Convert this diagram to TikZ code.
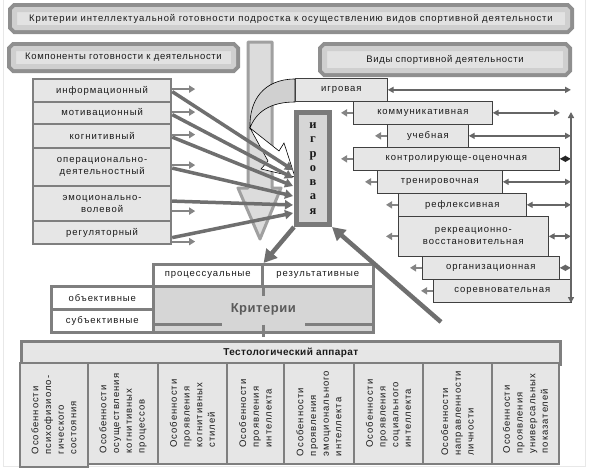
\documentclass[tikz,border=0pt]{standalone}
\usepackage{fontspec}
\setmainfont{Liberation Sans}[LetterSpace=10]
\newfontfamily\headfont{Liberation Sans}[LetterSpace=7]
\newfontfamily\titlefont{Liberation Sans}[LetterSpace=9.5]
\newfontfamily\boldsans{Liberation Sans}[LetterSpace=4]
\newfontfamily\igfont{Liberation Serif}
\usetikzlibrary{arrows.meta,calc}
\definecolor{frameg}{HTML}{8F8F8F}
\definecolor{bandg}{HTML}{CFCFCF}
\definecolor{innerg}{HTML}{E2E2E2}
\definecolor{boxg}{HTML}{E6E6E6}
\definecolor{bdrg}{HTML}{7F7F7F}
\definecolor{arrg}{HTML}{6F6F6F}
\definecolor{sarrg}{HTML}{858585}
\definecolor{darrg}{HTML}{666666}
\definecolor{igvb}{HTML}{7A7A7A}
\definecolor{igvf}{HTML}{D6D6D6}
\definecolor{barf}{HTML}{DCDCDC}
\definecolor{barb}{HTML}{A0A0A0}
\definecolor{curveg}{HTML}{D0D0D0}
\definecolor{kritg}{HTML}{D6D6D6}
\definecolor{txtc}{HTML}{1A1A1A}
\definecolor{kritt}{HTML}{5A5A5A}
\definecolor{faintc}{HTML}{E8E8E8}
\begin{document}
\begin{tikzpicture}[x=1pt,y=-1pt,
  every node/.style={inner sep=1pt, text=txtc, font=\fontsize{9.5}{12}\selectfont},
  hd/.style={draw=bandg, fill=innerg, line width=5pt, rounded corners=1.5pt,
    preaction={draw=frameg, line width=13pt}, font=\headfont\fontsize{9.5}{12}\selectfont},
  cbox/.style={draw=bdrg, fill=boxg, line width=2.2pt, align=center, anchor=north west},
  abox/.style={draw=black!75, fill=boxg, line width=0.7pt, align=center, anchor=north west},
  crbox/.style={draw=bdrg, fill=white, line width=2.6pt, align=center, anchor=north west},
  kritbox/.style={draw=bdrg, fill=kritg, line width=2.6pt, anchor=north west,
    font=\boldsans\bfseries\fontsize{13}{15}\selectfont, text=kritt},
  igvbox/.style={draw=igvb, fill=igvf, line width=5pt, align=center,
    font=\igfont\bfseries\fontsize{12.5}{14.3}\selectfont},
  testhead/.style={draw=bdrg, fill=boxg, line width=2.6pt, anchor=north west,
    font=\boldsans\bfseries\fontsize{10}{12}\selectfont},
  cell/.style={draw=bdrg, fill=boxg, line width=2.6pt, align=left, rotate=90,
    font=\fontsize{9.5}{12.7}\selectfont},
  blockarr/.style={draw=barb, fill=barf, line width=3pt, line join=round},
  uturn/.style={draw=black, line width=0.6pt},
  longarr/.style={draw=arrg, line width=3.5pt, -{Triangle[length=8pt,width=9pt]}},
  shortarr/.style={draw=sarrg, line width=2pt, -{Triangle[length=6pt,width=7pt]}},
  dblarr/.style={draw=darrg, line width=1.8pt, {Triangle[length=6pt,width=6pt]}-{Triangle[length=6pt,width=6pt]}},
  bigarr/.style={draw=arrg, line width=4.5pt, -{Triangle[length=13pt,width=14pt]}},
  kline/.style={draw=bdrg, line width=2.4pt},
  faint/.style={draw=faintc, line width=0.6pt}
]
\useasboundingbox (0,0) rectangle (590,471);
\draw[faint] (3,0) -- (3,466) -- (585,466) -- (585,0);

% headings
\node[hd, minimum width=553pt, minimum height=18pt, font=\titlefont\fontsize{9.5}{12}\selectfont] (title) at (291,18.5)
  {Критерии интеллектуальной готовности подростка к осуществлению видов спортивной деятельности};
\node[hd, minimum width=220pt, minimum height=18pt] (komp) at (123.5,57.5)
  {Компоненты готовности к деятельности};
\node[hd, minimum width=241pt, minimum height=22pt] (vidy) at (445,59.5)
  {Виды спортивной деятельности};

% downward block arrow
\draw[blockarr] (248,42) -- (272,42) -- (272,188) -- (281,188) -- (260,239) -- (238,188) -- (248,188) -- cycle;

% U-turn arrow
\draw[uturn, fill=curveg] (295,79) .. controls (264,79) and (249,100) .. (250,128)
  .. controls (256,112) and (270,102) .. (295,102) -- cycle;
\draw[uturn, fill=white] (250,128) -- (279,151) -- (284,143) -- (295,177) -- (261,169) -- (268,161) -- cycle;

% component boxes
\node[cbox, minimum width=138pt, minimum height=23pt] (info) at (32,78) {информационный};
\node[cbox, minimum width=138pt, minimum height=22pt] (motiv) at (32,101) {мотивационный};
\node[cbox, minimum width=138pt, minimum height=24pt] (kogn) at (32,123) {когнитивный};
\node[cbox, minimum width=138pt, minimum height=38pt] (oper) at (32,147) {операционально-\\деятельностный};
\node[cbox, minimum width=138pt, minimum height=35pt] (emo) at (32,185) {эмоционально-\\волевой};
\node[cbox, minimum width=138pt, minimum height=23pt] (reg) at (32,220) {регуляторный};

% activity boxes
\node[abox, minimum width=92pt, minimum height=23pt] (igr) at (295,78) {игровая};
\node[abox, minimum width=139pt, minimum height=23pt] (komm) at (353,101) {коммуникативная};
\node[abox, minimum width=81pt, minimum height=23pt] (uch) at (387,124) {учебная};
\node[abox, minimum width=206pt, minimum height=23pt] (kontr) at (353,147) {контролирующе-оценочная};
\node[abox, minimum width=125pt, minimum height=23pt] (tren) at (377,170) {тренировочная};
\node[abox, minimum width=128pt, minimum height=23pt] (refl) at (398,193) {рефлексивная};
\node[abox, minimum width=150pt, minimum height=40pt] (rekr) at (398,216) {рекреационно-\\восстановительная};
\node[abox, minimum width=137pt, minimum height=23pt] (org) at (422,256) {организационная};
\node[abox, minimum width=138pt, minimum height=23pt] (sor) at (433,279) {соревновательная};

% vertical box
\node[igvbox, minimum width=33pt, minimum height=112pt] (igv) at (313,168.5) {и\\г\\р\\о\\в\\а\\я};

% coordinates
\coordinate (t1) at (293,170);
\coordinate (t2) at (293,178);
\coordinate (t3) at (293,186);
\coordinate (t4) at (293,196);
\coordinate (t5) at (293,205);
\coordinate (t6) at (293,213);
\coordinate (vtop) at (571,112);
\coordinate (vbot) at (571,303);
\coordinate (lr) at (441,322);

% long arrows
\draw[longarr] ([yshift=-1pt]info.east) -- (t1);
\draw[longarr] ([yshift=-1.5pt]motiv.east) -- (t2);
\draw[longarr] ([yshift=-1pt]kogn.east) -- (t3);
\draw[longarr] ([yshift=-1pt]oper.east) -- (t4);
\draw[longarr] ([yshift=2.5pt]emo.east) -- (t5);
\draw[longarr] ([yshift=-5pt]reg.east) -- (t6);
% short arrows
\draw[shortarr] ([yshift=1.5pt]info.east) -- ++(23,0);
\draw[shortarr] ([yshift=1pt]motiv.east) -- ++(23,0);
\draw[shortarr] ([yshift=1.5pt]kogn.east) -- ++(23,0);
\draw[shortarr] ([yshift=2pt]oper.east) -- ++(23,0);
\draw[shortarr] ([yshift=-7.5pt]emo.east) -- ++(23,0);
\draw[shortarr] ([yshift=-9pt]reg.east) -- ++(23,0);

% right side arrows
\foreach \n in {komm,uch,kontr,tren,refl,rekr,org,sor}
  \draw[shortarr] (\n.west) -- ++(-12,0);
\draw[dblarr] (igr.east) -- (igr.east -| vtop);
\draw[dblarr] (komm.east) -- ([xshift=-11pt]komm.east -| vtop);
\draw[dblarr] (uch.east) -- (uch.east -| vtop);
\draw[dblarr, draw=black!85] (kontr.east) -- (kontr.east -| vtop);
\draw[dblarr] (tren.east) -- (tren.east -| vtop);
\draw[dblarr] (refl.east) -- (refl.east -| vtop);
\draw[dblarr] (rekr.east) -- (rekr.east -| vtop);
\draw[dblarr] (org.east) -- (org.east -| vtop);
\draw[dblarr] (vtop) -- (vbot);

% criteria
\node[crbox, minimum width=109pt, minimum height=22pt] (proc) at (152,263) {процессуальные};
\node[crbox, minimum width=111pt, minimum height=22pt] (res) at (261,263) {результативные};
\node[kritbox, minimum width=220pt, minimum height=46pt] (krit) at (152,285) {Критерии};
\node[crbox, minimum width=102pt, minimum height=23pt] (obj) at (50,285) {объективные};
\node[crbox, minimum width=102pt, minimum height=23pt] (subj) at (50,308) {субъективные};
\draw[kline] (krit.north) -- ++(0,11);
\draw[kline] ([yshift=9pt]krit.south) -- ++(0,12);
\draw[kline] ([yshift=9pt]krit.south west) -- ++(70,0);
\draw[kline] ([yshift=9pt]krit.south east) -- ++(-70,0);

% big arrows
\draw[bigarr] (igv.south west) -- (proc.north east);
\draw[bigarr] (lr) -- (igv.south east);

% test apparatus
\node[testhead, minimum width=539pt, minimum height=23pt] (testh) at (20,340) {Тестологический аппарат};
\node[cell, minimum width=104pt, minimum height=68pt] (c1) at (54,415) {Особенности\\психофизиоло-\\гического\\состояния};
\node[cell, minimum width=101pt, minimum height=70pt] (c2) at (123,413.5) {Особенности\\осуществления\\когнитивных\\процессов};
\node[cell, minimum width=101pt, minimum height=69pt] (c3) at (192.5,413.5) {Особенности\\проявления\\когнитивных\\стилей};
\node[cell, minimum width=101pt, minimum height=57pt] (c4) at (255.5,413.5) {Особенности\\проявления\\интеллекта};
\node[cell, minimum width=101pt, minimum height=70pt] (c5) at (319,413.5) {Особенности\\проявления\\эмоционального\\интеллекта};
\node[cell, minimum width=101pt, minimum height=69pt] (c6) at (388.5,413.5) {Особенности\\проявления\\социального\\интеллекта};
\node[cell, minimum width=101pt, minimum height=69pt] (c7) at (457.5,413.5) {Особенности\\направленности\\личности};
\node[cell, minimum width=101pt, minimum height=67pt] (c8) at (525.5,413.5) {Особенности\\проявления\\универсальных\\показателей};
\end{tikzpicture}
\end{document}
